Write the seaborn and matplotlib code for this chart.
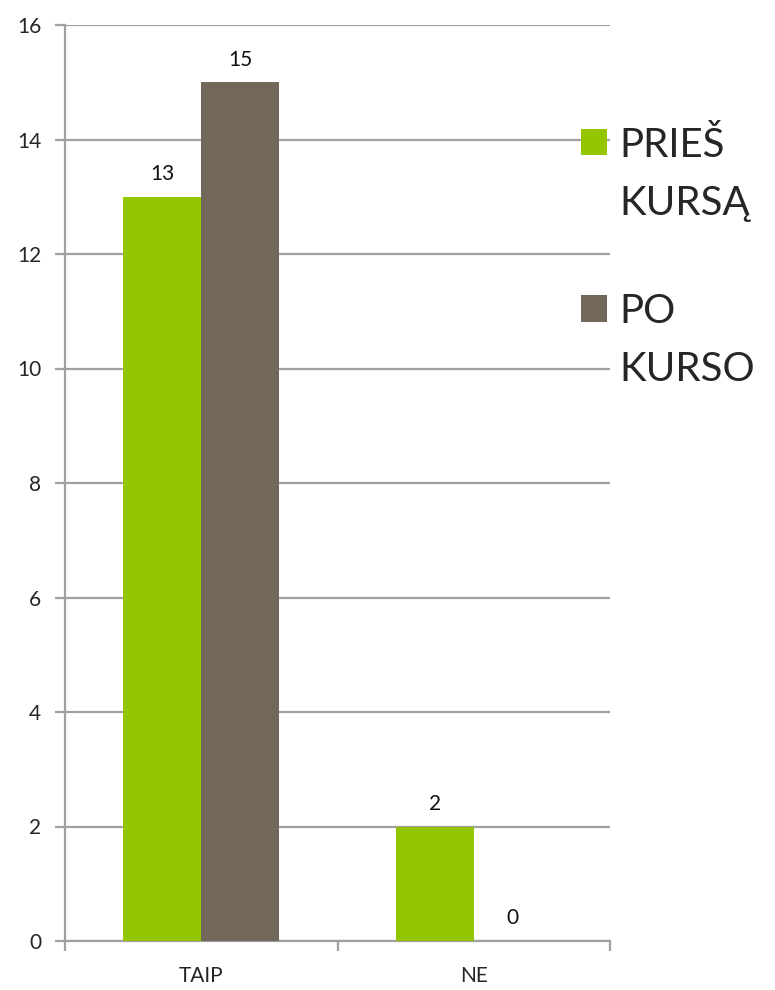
import matplotlib
matplotlib.use("Agg")
import matplotlib.pyplot as plt
from matplotlib.legend_handler import HandlerPatch
from matplotlib.patches import Rectangle
import pandas as pd
import seaborn as sns

# data
categories = ['TAIP', 'NE']
series = ['PRIEŠ\nKURSĄ', 'PO\nKURSO']
before = [13, 2]
after = [15, 0]
colors = ['#94C600', '#71685A']

df = pd.DataFrame({
    'category': categories * 2,
    'series': [series[0]] * 2 + [series[1]] * 2,
    'value': before + after,
})

sns.set_style('white')
plt.rcParams['font.family'] = ['Lato', 'DejaVu Sans']

fig = plt.figure(figsize=(7.75, 9.9), dpi=100)
ax = fig.add_axes([65 / 775, 49 / 990, 545 / 775, 916 / 990])

sns.barplot(data=df, x='category', y='value', hue='series', order=categories,
            hue_order=series, palette=colors, width=0.572, saturation=1,
            ax=ax, zorder=3, linewidth=0)

# value labels
for cont in ax.containers:
    ax.bar_label(cont, fmt='%d', padding=9, fontsize=15, color='#111111')

ax.set_ylim(0, 16)
ax.set_xlim(-0.5, 1.5)
ax.set_yticks(range(0, 17, 2))
ax.yaxis.grid(True, color='#A0A0A0', linewidth=1.6, zorder=0)
ax.set_axisbelow(True)
ax.set_xlabel('')
ax.set_ylabel('')

for s in ['top', 'right']:
    ax.spines[s].set_visible(False)
for s in ['left', 'bottom']:
    ax.spines[s].set_color('#A0A0A0')
    ax.spines[s].set_linewidth(1.6)

ax.tick_params(axis='y', which='major', length=7, width=1.6, color='#A0A0A0',
               labelsize=15, pad=10, left=True)
ax.tick_params(axis='x', which='major', length=0, labelsize=15, pad=18)
ax.set_xticks([-0.5, 0.5, 1.5], minor=True)
ax.tick_params(axis='x', which='minor', length=7, width=1.6, color='#A0A0A0',
               bottom=True)


# legend square sits next to the first line of the label, like Excel does
def top_square(legend, orig_handle, xdescent, ydescent, width, height, fontsize):
    return Rectangle((-xdescent, -ydescent + 0.82 * fontsize), width, height)


handles, labels = ax.get_legend_handles_labels()
leg = ax.legend(handles, labels, loc='upper left', bbox_to_anchor=(0.947, 0.889),
                frameon=False, fontsize=29, handlelength=0.65, handleheight=0.65,
                handletextpad=0.3, labelspacing=1.77, borderaxespad=0, borderpad=0,
                handler_map={Rectangle: HandlerPatch(patch_func=top_square)})
for t in leg.get_texts():
    t.set_linespacing(1.7)

fig.savefig('out.png', dpi=100)
